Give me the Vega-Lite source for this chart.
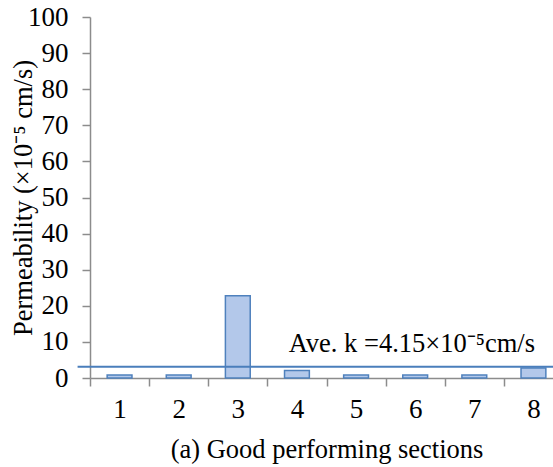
{
  "$schema": "https://vega.github.io/schema/vega-lite/v6.json",
  "width": 473,
  "height": 361,
  "autosize": "none",
  "padding": {"left": 90, "top": 17, "right": 0, "bottom": 89},
  "background": "white",
  "config": {
    "font": "Liberation Serif",
    "view": {"stroke": null},
    "axis": {
      "grid": false,
      "domainColor": "#8c8c8c",
      "domainWidth": 1.5,
      "tickColor": "#8c8c8c",
      "tickWidth": 1.5,
      "tickSize": 8,
      "labelFont": "Liberation Serif",
      "labelFontSize": 27,
      "labelColor": "#000000",
      "titleFont": "Liberation Serif",
      "titleFontSize": 26.5,
      "titleFontWeight": "normal",
      "titleColor": "#000000"
    }
  },
  "layer": [
    {
      "data": {
        "values": [
          {"section": 1, "k": 0.8},
          {"section": 2, "k": 0.8},
          {"section": 3, "k": 22.8},
          {"section": 4, "k": 2.1},
          {"section": 5, "k": 0.8},
          {"section": 6, "k": 0.8},
          {"section": 7, "k": 0.8},
          {"section": 8, "k": 2.8}
        ]
      },
      "mark": {"type": "bar", "fill": "#b3c8ea", "stroke": "#4f81bd", "strokeWidth": 1.5, "width": {"band": 0.42}},
      "encoding": {
        "x": {
          "field": "section",
          "type": "ordinal",
          "scale": {"paddingInner": 0, "paddingOuter": 0},
          "title": "(a) Good performing sections",
          "axis": {"labelAngle": 0, "tickBand": "extent", "labelPadding": 10, "titleY": 79, "titleBaseline": "alphabetic"}
        },
        "y": {
          "field": "k",
          "type": "quantitative",
          "scale": {"domain": [0, 100], "nice": false},
          "title": "Permeability (×10⁻⁵ cm/s)",
          "axis": {"tickCount": 10, "labelPadding": 14, "titleX": -59, "titleY": 180.5, "titleAngle": 270, "titleBaseline": "alphabetic", "titleAlign": "center"}
        }
      }
    },
    {
      "data": {"values": [{"avg": 3.1, "from": 1, "to": 8}]},
      "mark": {"type": "rule", "color": "#4a7ebb", "strokeWidth": 2},
      "encoding": {
        "x": {"field": "from", "type": "ordinal", "bandPosition": -0.21},
        "x2": {"field": "to", "bandPosition": 1.3},
        "y": {"field": "avg", "type": "quantitative"}
      }
    },
    {
      "data": {"values": [{"section": 4, "pos": 7.2, "label": "Ave. k =4.15×10⁻⁵cm/s"}]},
      "mark": {"type": "text", "align": "left", "baseline": "alphabetic", "fontSize": 26.5, "color": "#000000"},
      "encoding": {
        "x": {"field": "section", "type": "ordinal", "bandPosition": 0.36},
        "y": {"field": "pos", "type": "quantitative"},
        "text": {"field": "label"}
      }
    }
  ]
}
